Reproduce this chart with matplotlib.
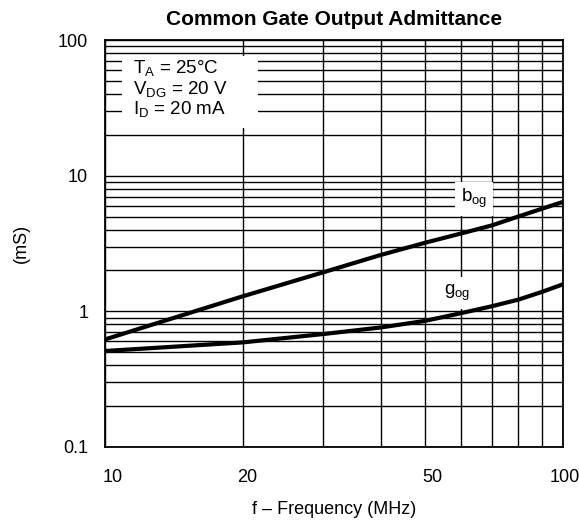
import matplotlib
matplotlib.use("Agg")
import matplotlib.pyplot as plt
from matplotlib.patches import Rectangle
from matplotlib.ticker import FixedLocator, NullFormatter, FixedFormatter
from matplotlib.transforms import ScaledTranslation

plt.rcParams['font.family'] = ['Liberation Sans', 'DejaVu Sans']
plt.rcParams['mathtext.default'] = 'regular'

# Data
freq = [10, 20, 30, 40, 50, 60, 70, 80, 90, 100]          # MHz
b_og = [0.62, 1.29, 1.94, 2.6, 3.2, 3.75, 4.3, 5.0, 5.7, 6.4]   # mS
g_og = [0.51, 0.59, 0.68, 0.76, 0.85, 0.97, 1.09, 1.22, 1.39, 1.58]  # mS

x_ticks = [10, 20, 50, 100]
x_tick_labels = ["10", "20", "50", "100"]
y_ticks = [0.1, 1, 10, 100]
y_tick_labels = ["0.1", "1", "10", "100"]

title = "Common Gate Output Admittance"
xlabel = "f – Frequency (MHz)"
ylabel = "(mS)"
conditions = ["T$_A$ = 25°C", "V$_{DG}$ = 20 V", "I$_D$ = 20 mA"]

fig = plt.figure(figsize=(5.79, 5.25), dpi=100)
ax = fig.add_axes([0.181, 0.1486, 0.791, 0.7752])
ax.set_xscale('log')
ax.set_yscale('log')
ax.set_xlim(10, 100)
ax.set_ylim(0.1, 100)

# grid lines (major + minor) in black
xgrid = [10, 20, 30, 40, 50, 60, 70, 80, 90, 100]
ygrid = [m * d for d in (0.1, 1, 10) for m in range(1, 10)] + [100]
for xv in xgrid:
    ax.axvline(xv, color='black', lw=1.0, zorder=1)
for yv in ygrid:
    ax.axhline(yv, color='black', lw=1.0, zorder=1)

ax.xaxis.set_major_locator(FixedLocator(x_ticks))
ax.xaxis.set_major_formatter(FixedFormatter(x_tick_labels))
ax.xaxis.set_minor_locator(FixedLocator([]))
ax.xaxis.set_minor_formatter(NullFormatter())
ax.yaxis.set_major_locator(FixedLocator(y_ticks))
ax.yaxis.set_major_formatter(FixedFormatter(y_tick_labels))
ax.yaxis.set_minor_locator(FixedLocator([]))
ax.yaxis.set_minor_formatter(NullFormatter())
ax.tick_params(axis='both', which='both', length=0, labelsize=13)
ax.tick_params(axis='x', pad=16)
ax.tick_params(axis='y', pad=12)

# small horizontal shifts of x tick labels as in the reference
shifts_px = [8, 5, 7, 2]
for lab, sh in zip(ax.get_xticklabels(), shifts_px):
    lab.set_transform(lab.get_transform() + ScaledTranslation(sh / 100, 0, fig.dpi_scale_trans))

for s in ax.spines.values():
    s.set_linewidth(1.3)
    s.set_color('black')

# condition box (white background hides grid)
ax.add_patch(Rectangle((0.037, 0.784), 0.297, 0.177, transform=ax.transAxes,
                       facecolor='white', edgecolor='none', zorder=2))
cy = [0.932, 0.880, 0.831]
for t, yy in zip(conditions, cy):
    ax.text(0.061, yy, t, transform=ax.transAxes, fontsize=13.5,
            ha='left', va='center', zorder=3)

ax.plot(freq, b_og, color='black', lw=3.0, zorder=4, solid_capstyle='butt')
ax.plot(freq, g_og, color='black', lw=3.0, zorder=4, solid_capstyle='butt')

ax.text(0.806, 0.610, "b$_{og}$", transform=ax.transAxes, fontsize=13.5,
        ha='center', va='center', zorder=3,
        bbox=dict(facecolor='white', edgecolor='none', pad=4))
ax.text(0.769, 0.378, "g$_{og}$", transform=ax.transAxes, fontsize=13.5,
        ha='center', va='center', zorder=3,
        bbox=dict(facecolor='white', edgecolor='none', pad=4))

ax.set_title(title, fontsize=15, fontweight='bold', pad=11)
ax.set_xlabel(xlabel, fontsize=13, labelpad=11)
ax.set_ylabel(ylabel, fontsize=13, labelpad=20)

fig.savefig("out.png", dpi=100)
